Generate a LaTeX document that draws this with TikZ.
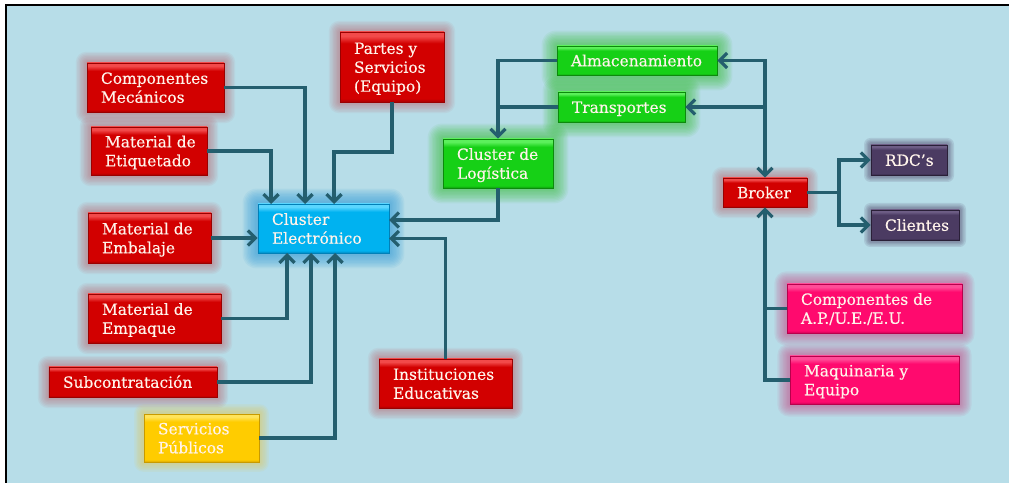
\documentclass[tikz,border=0pt]{standalone}
\usepackage{fontspec}
\setmainfont{DejaVu Serif}
\newfontfamily\boxfont{DejaVu Serif}[FakeBold=0.35]
\usetikzlibrary{arrows.meta}

\pgfdeclarelayer{bg}
\pgfdeclarelayer{glow}
\pgfsetlayers{bg,glow,main}

% page and connector colours
\definecolor{bgblue}{HTML}{B7DDE8}
\definecolor{linkc}{HTML}{245E6E}
\definecolor{txt}{HTML}{FFF3EA}
% box palettes: top highlight, body, bottom edge, outline, halo
\definecolor{topr}{HTML}{F24A4A}\definecolor{midr}{HTML}{D20000}\definecolor{botr}{HTML}{A80000}\definecolor{edger}{HTML}{9A0000}\definecolor{glowr}{HTML}{B84A52}
\definecolor{topg}{HTML}{5CF05C}\definecolor{midg}{HTML}{16D016}\definecolor{botg}{HTML}{0E9E0E}\definecolor{edgeg}{HTML}{0C8A0C}\definecolor{glowg}{HTML}{38C038}
\definecolor{topb}{HTML}{5AD6FF}\definecolor{midb}{HTML}{00B2F0}\definecolor{botb}{HTML}{0088C0}\definecolor{edgeb}{HTML}{0080B8}\definecolor{glowb}{HTML}{3AA0DA}
\definecolor{topy}{HTML}{FFE45A}\definecolor{midy}{HTML}{FFCC00}\definecolor{boty}{HTML}{D9A600}\definecolor{edgey}{HTML}{C89A00}\definecolor{glowy}{HTML}{E8C84A}
\definecolor{topp}{HTML}{6E5E86}\definecolor{midp}{HTML}{4B3B62}\definecolor{botp}{HTML}{2E2240}\definecolor{edgep}{HTML}{2A2038}\definecolor{glowp}{HTML}{4A3A5E}
\definecolor{topk}{HTML}{FF4C98}\definecolor{midk}{HTML}{FF0A6E}\definecolor{botk}{HTML}{D00056}\definecolor{edgek}{HTML}{B8004C}\definecolor{glowk}{HTML}{C8508A}

% bevelled vertical shading for each palette
\newcommand\mkbevel[1]{%
  \pgfdeclareverticalshading{bevel#1}{100bp}{color(0bp)=(bot#1); color(25bp)=(bot#1);
    color(27.5bp)=(mid#1); color(67bp)=(mid#1); color(72bp)=(top#1); color(100bp)=(top#1)}}
\mkbevel{r}\mkbevel{g}\mkbevel{b}\mkbevel{y}\mkbevel{p}\mkbevel{k}

% halo size (layers) and layer opacity per palette
\def\gsr{8}\def\gor{0.065}
\def\gsg{11}\def\gog{0.075}
\def\gsb{11}\def\gob{0.09}
\def\gsy{7}\def\goy{0.09}
\def\gsp{5}\def\gop{0.13}
\def\gsk{9}\def\gok{0.09}

\tikzset{
  box/.style={rectangle, inner sep=0pt, text=txt, shade,
    font=\boxfont\fontsize{15.5}{19}\selectfont, line width=0.6bp},
  link/.style={draw=linkc, line width=3.3bp},
  arr/.style={link, -{Straight Barb[length=7.5bp,width=15bp]}},
  arr2/.style={link, {Straight Barb[length=7.5bp,width=15bp]}-{Straight Barb[length=7.5bp,width=15bp]}},
}

% \bx{name}{palette}{x1}{y1}{x2}{y2}{text}: bevelled box with a soft halo,
% text set flush left with a 14bp margin
\newcommand\bx[7]{%
  \begin{pgfonlayer}{glow}
    \foreach \g [evaluate=\g as \ee using 1.4*\g, evaluate=\g as \rr using 1.3*\g]
      in {1,...,\csname gs#2\endcsname}
      \fill[glow#2, opacity=\csname go#2\endcsname, rounded corners=\rr pt]
        ({#3-\ee},{#4-\ee}) rectangle ({#5+\ee},{#6+\ee});
  \end{pgfonlayer}
  \pgfmathsetmacro\bw{#5-#3}\pgfmathsetmacro\bh{#6-#4}\pgfmathsetmacro\tw{#5-#3-28}
  \node[box, shading=bevel#2, draw=edge#2, minimum width=\bw bp, minimum height=\bh bp]
    (#1) at ({(#3+#5)/2},{(#4+#6)/2})
    {\raisebox{-2bp}[\height][\depth]{\makebox[\tw bp][l]{\begin{tabular}{@{}l@{}}#7\end{tabular}}}};
}

\begin{document}
\begin{tikzpicture}[x=1bp, y=-1bp]
  \useasboundingbox (0,0) rectangle (1009,483);
  \begin{pgfonlayer}{bg}
    \fill[white] (0,0) rectangle (1009,483);
    \fill[bgblue] (6,5) rectangle (1009,483);
    \draw[black, line width=2.5bp] (6.2,483) -- (6.2,5.2) -- (1009,5.2);
  \end{pgfonlayer}

  % suppliers around the electronics cluster
  \bx{mec}{r}{87}{63}{224}{112}{Componentes\\Mecánicos}
  \bx{partes}{r}{340}{32}{444}{102}{Partes y\\Servicios\\(Equipo)}
  \bx{etiq}{r}{91}{127}{207}{175}{Material de\\Etiquetado}
  \bx{clel}{b}{258}{204}{389}{253}{Cluster\\Electrónico}
  \bx{emb}{r}{88}{213}{211}{263}{Material de\\Embalaje}
  \bx{emp}{r}{88}{294}{221}{343}{Material de\\Empaque}
  \bx{sub}{r}{49}{367}{217}{397}{Subcontratación}
  \bx{serv}{y}{144}{414}{259}{462}{Servicios\\Públicos}
  \bx{inst}{r}{379}{359}{512}{408}{Instituciones\\Educativas}

  % logistics
  \bx{clog}{g}{443}{139}{553}{188}{Cluster de\\Logística}
  \bx{alm}{g}{557}{46}{717}{75}{Almacenamiento}
  \bx{tra}{g}{558}{92}{685}{122}{Transportes}

  % broker side
  \bx{brk}{r}{723}{178}{807}{207}{Broker}
  \bx{rdc}{p}{871}{145}{947}{175}{RDC’s}
  \bx{cli}{p}{871}{210}{959}{240}{Clientes}
  \bx{comp}{k}{787}{284}{962}{333}{Componentes de\\A.P./U.E./E.U.}
  \bx{maq}{k}{790}{356}{959}{404}{Maquinaria y\\Equipo}

  % entry points on the electronics cluster
  \coordinate (tE) at (271,204);
  \coordinate (tM) at (305,204);
  \coordinate (tP) at (334,204);
  \coordinate (pk) at (334,152);
  \coordinate (bE) at (287,253);
  \coordinate (bS) at (311,253);
  \coordinate (bV) at (335,253);
  \coordinate (rL) at (389,220);
  \coordinate (rI) at (389,238.5);
  \coordinate (bj) at (839,192.5);

  \draw[arr] (mec.east) -| (tM);
  \draw[arr] (etiq.east) -| (tE);
  \draw[arr] (partes.south) |- (pk) -- (tP);
  \draw[arr] (emb.east) -- (emb.east -| clel.west);
  \draw[arr] (emp.east) -| (bE);
  \draw[arr] (sub.east) -| (bS);
  \draw[arr] (serv.east) -| (bV);
  \draw[arr] (clog.south) |- (rL);
  \draw[arr] (inst.north) |- (rI);

  % logistics links
  \draw[arr] (alm.west) -| (clog.north);
  \draw[link] (tra.west) -- (tra.west -| clog.north);
  \draw[arr2] (alm.east) -| (brk.north);
  \draw[arr] (tra.east -| brk.north) -- (tra.east);

  % broker links
  \draw[arr] (brk.east) -- (bj) |- (rdc.west);
  \draw[arr] (bj) |- (cli.west);
  \draw[arr] (maq.west) -| (brk.south);
  \draw[link] (comp.west) -- (comp.west -| brk.south);
\end{tikzpicture}
\end{document}
